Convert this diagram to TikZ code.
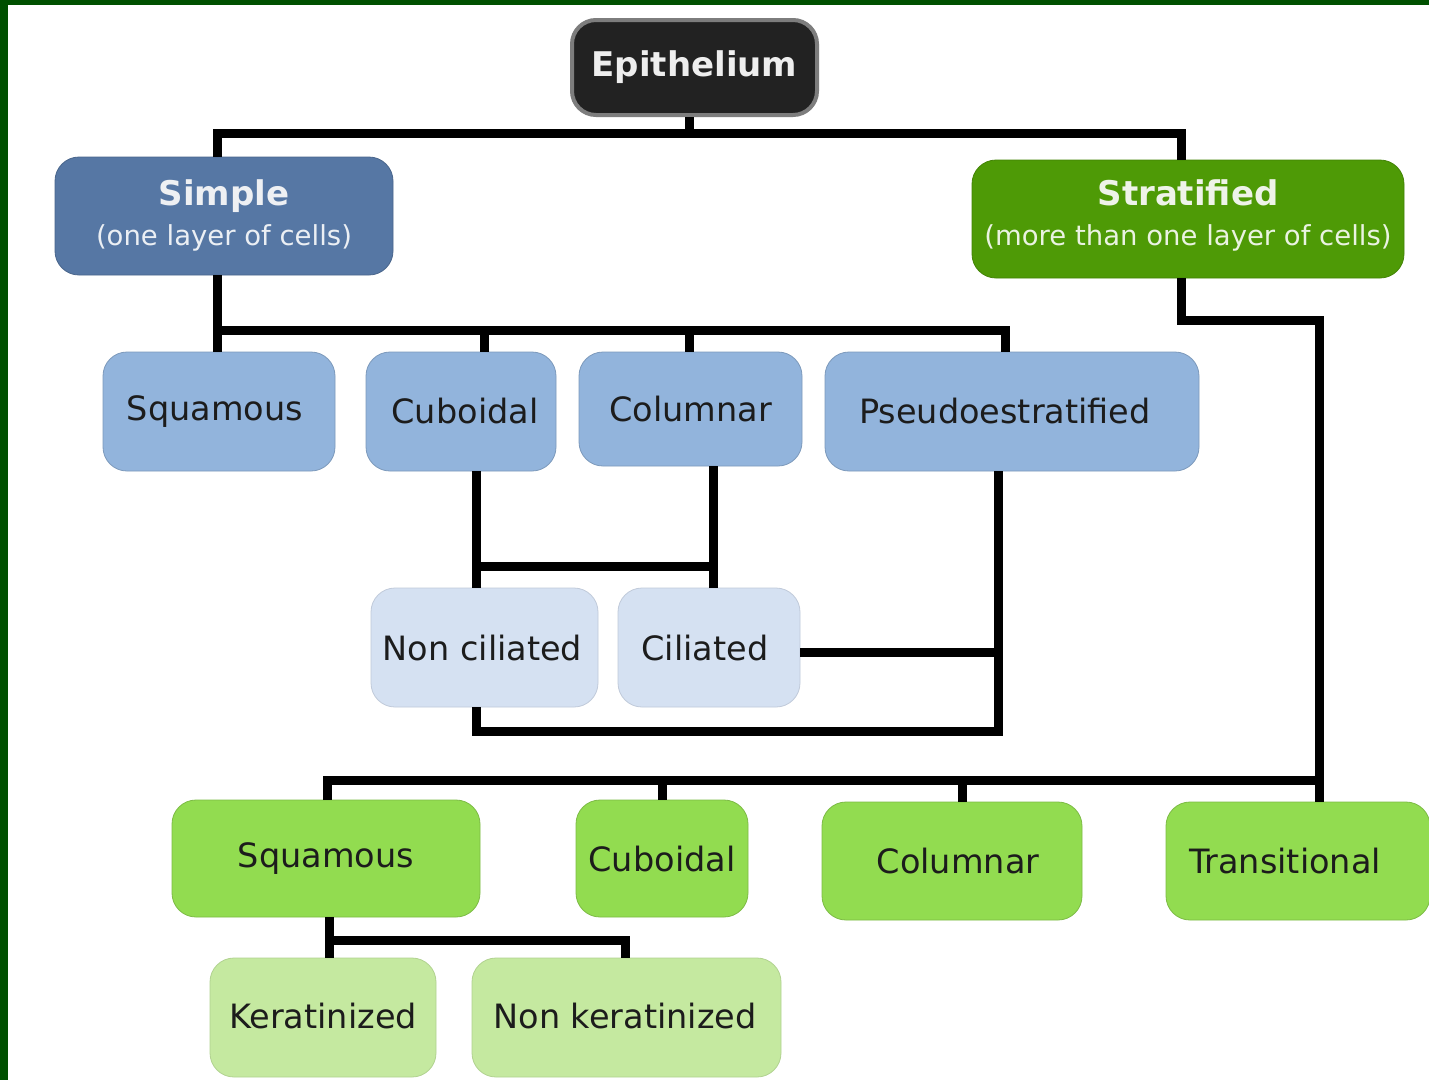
\documentclass[tikz,border=0pt]{standalone}
\usepackage{fontspec}
\setmainfont{DejaVu Sans}
\definecolor{frame}{RGB}{0,80,0}
\definecolor{simplec}{RGB}{86,119,164}
\definecolor{stratc}{RGB}{78,154,6}
\definecolor{lblue}{RGB}{146,180,220}
\definecolor{pblue}{RGB}{213,225,242}
\definecolor{lgreen}{RGB}{146,220,80}
\definecolor{pgreen}{RGB}{197,233,160}
\definecolor{epic}{RGB}{34,34,34}
\definecolor{epiedge}{RGB}{125,125,125}
\definecolor{txt}{RGB}{28,28,28}
\newcommand{\tshift}[1]{\hspace*{#1}}
\tikzset{
  boxbase/.style={rectangle, rounded corners=24pt, inner sep=0pt, align=center,
    font=\fontsize{33.5}{40}\selectfont, text=txt},
  epibox/.style={boxbase, fill=epic, draw=epiedge, line width=4pt, text={rgb,255:red,238;green,238;blue,238},
    font=\fontsize{34}{40}\selectfont\bfseries},
  simplebox/.style={boxbase, fill=simplec, draw=simplec!85!black, line width=0.8pt, text={rgb,255:red,238;green,240;blue,243}},
  stratbox/.style={boxbase, fill=stratc, draw=stratc!85!black, line width=0.8pt, text={rgb,255:red,238;green,243;blue,232}},
  lbbox/.style={boxbase, fill=lblue, draw=lblue!85!black, line width=0.8pt},
  pbbox/.style={boxbase, fill=pblue, draw=pblue!90!black, line width=0.8pt},
  lgbox/.style={boxbase, fill=lgreen, draw=lgreen!85!black, line width=0.8pt},
  pgbox/.style={boxbase, fill=pgreen, draw=pgreen!90!black, line width=0.8pt},
  conn/.style={draw=black, line width=9pt, line join=miter, line cap=butt}
}
\begin{document}
\begin{tikzpicture}[x=1pt,y=-1pt]
\useasboundingbox (0,0) rectangle (1429,1080);
\fill[frame] (0,0) rectangle (1429,1080);
\fill[white] (8,5) rectangle (1440,1090);

% bus coordinates
\coordinate (b1L) at (217,133);
\coordinate (b1R) at (1181,133);
\coordinate (b2L) at (217,330);
\coordinate (b2R) at (1005,330);
\coordinate (s2a) at (484,330);
\coordinate (s2b) at (689,330);
\coordinate (c1) at (476,566);
\coordinate (c2) at (713,566);
\coordinate (p1) at (998,652);
\coordinate (p2) at (998,731);
\coordinate (n1) at (476,731);
\coordinate (t1) at (1181,320);
\coordinate (t2) at (1319,320);
\coordinate (b3R) at (1319,780);
\coordinate (b3L) at (327,780);
\coordinate (s3a) at (662,780);
\coordinate (s3b) at (962,780);
\coordinate (k1) at (329,940);
\coordinate (k2) at (625,940);

% nodes
\node[epibox, minimum width=245pt, minimum height=95pt] (epi) at (694.5,67.5) {Epithelium\rule[-4pt]{0pt}{1pt}};
\node[simplebox, minimum width=338pt, minimum height=118pt] (simple) at (224,216)
  {{\fontsize{34}{42}\selectfont\bfseries Simple}\\{\fontsize{27.5}{31}\selectfont\color{white!88!simplec}(one layer of cells)\rule[-6pt]{0pt}{1pt}}};
\node[stratbox, minimum width=432pt, minimum height=118pt] (strat) at (1188,219)
  {{\fontsize{34}{42}\selectfont\bfseries Stratified}\\{\fontsize{27.5}{31}\selectfont\color{white!88!stratc}(more than one layer of cells)\rule[-12pt]{0pt}{1pt}}};
\node[lbbox, minimum width=232pt, minimum height=119pt] (sq1) at (219,411.5) {\tshift{-8pt}Squamous};
\node[lbbox, minimum width=190pt, minimum height=119pt] (cu1) at (461,411.5) {\tshift{8pt}Cuboidal};
\node[lbbox, minimum width=223pt, minimum height=114pt] (co1) at (690.5,409) {Columnar};
\node[lbbox, minimum width=374pt, minimum height=119pt] (ps) at (1012,411.5) {\tshift{-14pt}Pseudoestratified};
\node[pbbox, minimum width=227pt, minimum height=119pt] (nc) at (484.5,647.5) {\tshift{-4pt}Non ciliated};
\node[pbbox, minimum width=182pt, minimum height=119pt] (ci) at (709,647.5) {\tshift{-8pt}Ciliated};
\node[lgbox, minimum width=308pt, minimum height=117pt] (sq2) at (326,858.5) {Squamous\rule[-4pt]{0pt}{1pt}};
\node[lgbox, minimum width=172pt, minimum height=117pt] (cu2) at (662,858.5) {Cuboidal};
\node[lgbox, minimum width=260pt, minimum height=118pt] (co2) at (952,861) {\tshift{12pt}Columnar};
\node[lgbox, minimum width=264pt, minimum height=118pt] (tr) at (1298,861) {\tshift{-26pt}Transitional};
\node[pgbox, minimum width=226pt, minimum height=119pt] (ke) at (323,1017.5) {Keratinized\rule[-4pt]{0pt}{1pt}};
\node[pgbox, minimum width=309pt, minimum height=119pt] (nk) at (626.5,1017.5) {\tshift{-3pt}Non keratinized\rule[-4pt]{0pt}{1pt}};

% connectors
\draw[conn] (epi.south -| 689,0) -- (689,133);
\draw[conn] (simple.north -| b1L) -- (b1L) -- (b1R) -- (strat.north -| b1R);
\draw[conn] (simple.south -| b2L) -- (b2L) -- (b2R) -- (ps.north -| b2R);
\draw[conn] (b2L) -- (sq1.north -| b2L);
\draw[conn] (s2a) -- (cu1.north -| s2a);
\draw[conn] (s2b) -- (co1.north -| s2b);
\draw[conn] (cu1.south -| c1) -- (c1) -- (nc.north -| c1);
\draw[conn] (co1.south -| c2) -- (c2) -- (ci.north -| c2);
\draw[conn] (c1) -- (c2);
\draw[conn] (ps.south -| p2) -- (p2) -- (n1) -- (nc.south -| n1);
\draw[conn] (ci.east |- p1) -- (p1);
\draw[conn] (strat.south -| t1) -- (t1) -- (t2) -- (b3R) -- (tr.north -| b3R);
\draw[conn] (b3R) -- (b3L) -- (sq2.north -| b3L);
\draw[conn] (s3a) -- (cu2.north -| s3a);
\draw[conn] (s3b) -- (co2.north -| s3b);
\draw[conn] (sq2.south -| k1) -- (k1) -- (k2) -- (nk.north -| k2);
\draw[conn] (k1) -- (ke.north -| k1);
\end{tikzpicture}
\end{document}
